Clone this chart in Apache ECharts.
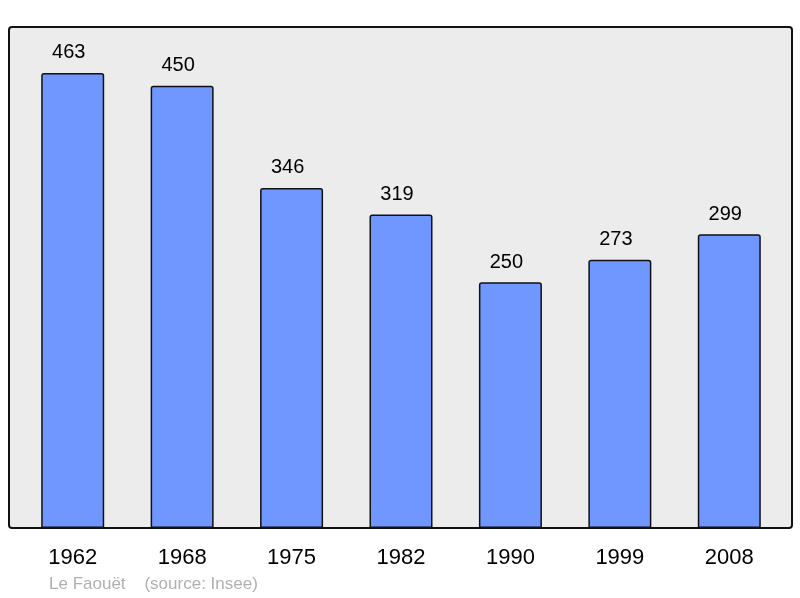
<!DOCTYPE html>
<html><head><meta charset="utf-8">
<script src="https://cdn.jsdelivr.net/npm/echarts@6/dist/echarts.min.js"></script>
<style>html,body{margin:0;padding:0;background:#fff}#c{width:800px;height:598px}</style>
</head><body><div id="c"></div>
<script>
const years = ['1962','1968','1975','1982','1990','1999','2008'];
const population = [463, 450, 346, 319, 250, 273, 299];
const footnote = 'Le Faouët    (source: Insee)';

const chart = echarts.init(document.getElementById('c'), null, {renderer:'canvas'});
chart.setOption({
  animation:false,
  backgroundColor:'#ffffff',
  graphic:[
    {type:'rect', z:-10, shape:{x:9,y:27,width:783,height:501,r:3}, style:{fill:'#ececec', stroke:'#111', lineWidth:2}},
    {type:'text', left:49, top:576, style:{text:footnote, fill:'#b0b0b0', font:'17px "Liberation Sans", Arial, sans-serif'}}
  ],
  grid:{left:18, width:766, top:36.6, height:491.4, containLabel:false},
  xAxis:{type:'category', data:years, axisLine:{show:false}, axisTick:{show:false},
    axisLabel:{color:'#000', fontSize:22, fontFamily:'Liberation Sans', margin:19}},
  yAxis:{type:'value', min:0, max:500, show:false, splitLine:{show:false}},
  series:[{type:'bar', data:population, barWidth:63,
    itemStyle:{color:'#7096ff', borderColor:'#111', borderWidth:1.5, borderRadius:[2,2,0,0]},
    label:{show:true, position:'top', distance:10, offset:[-4,0], color:'#000', fontSize:20, fontFamily:'Liberation Sans'}}]
});
</script></body></html>
